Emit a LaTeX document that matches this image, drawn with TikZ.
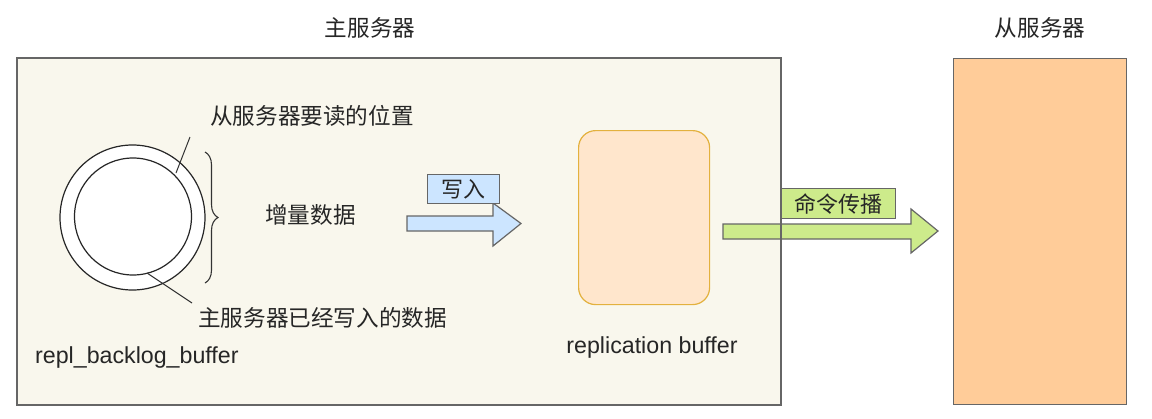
\documentclass[tikz,border=0pt]{standalone}
\usepackage{fontspec}
\setmainfont{Liberation Sans}
\newfontfamily\cjk{Noto Sans CJK SC}
\usetikzlibrary{decorations.pathreplacing}
\definecolor{cream}{HTML}{F9F7ED}
\definecolor{grayline}{HTML}{666666}
\definecolor{slave}{HTML}{FFCC99}
\definecolor{bufffill}{HTML}{FFE6CC}
\definecolor{buffline}{HTML}{E3B13E}
\definecolor{bluefill}{HTML}{CCE5FF}
\definecolor{greenfill}{HTML}{CDEB8B}
\tikzset{
  lbl/.style={font=\cjk\fontsize{22.6}{26}\selectfont, inner sep=0pt, text=black!85},
  latin/.style={font=\fontsize{23.2}{26}\selectfont, inner sep=0pt, text=black!85},
  tagbox/.style={draw=grayline, line width=1.2pt, inner sep=0pt, font=\cjk\fontsize{22}{24}\selectfont, text=black!85},
  bigarrow/.style={draw=grayline, line width=1.2pt, line join=miter},
  leader/.style={draw=black!80, line width=1pt}
}
\begin{document}
\begin{tikzpicture}[x=1pt,y=-1pt]
\useasboundingbox (0,0) rectangle (1152,418);
% main server box
\fill[cream] (17,58) rectangle (781,405);
% slave box
\node[draw=grayline, fill=slave, line width=1.2pt, minimum width=173pt, minimum height=346pt, inner sep=0pt, anchor=north west] (slave) at (953,58) {};
% titles
\node[lbl] (mtitle) at (370,28) {主服务器};
\node[lbl] (stitle) at (1040,28) {从服务器};
% ring buffer
\node[circle, draw=black!85, fill=white, line width=1.2pt, minimum size=145pt, inner sep=0pt] (outer) at (132.5,217.5) {};
\node[circle, draw=black!85, fill=white, line width=1.2pt, minimum size=117pt, inner sep=0pt] (inner) at (133,216.5) {};
% brace
\draw[line width=1.1pt, black!80, decorate, decoration={brace, amplitude=13pt}] (205,152) -- (205,283);
% labels
\node[lbl, anchor=west] (readpos) at (210,116) {从服务器要读的位置};
\node[lbl, anchor=west] (incr) at (265,215) {增量数据};
\node[lbl, anchor=west] (written) at (198,318) {主服务器已经写入的数据};
\node[latin, anchor=west] (backlog) at (35,357) {repl\_backlog\_buffer};
\coordinate (r1) at (190,137);
\coordinate (r2) at (176,173);
\coordinate (w1) at (147,273);
\coordinate (w2) at (192,303);
\draw[leader] (r1) -- (r2);
\draw[leader] (w1) -- (w2);
% replication buffer
\node[draw=buffline, fill=bufffill, line width=1.2pt, rounded corners=17pt, minimum width=131pt, minimum height=174pt, inner sep=0pt, anchor=north west] (rbuf) at (578,130) {};
\node[latin] (rbuflbl) at (652,347) {replication buffer};
% write arrow
\draw[bigarrow, fill=bluefill] (407,216) -- (493,216) -- (493,203) -- (521,223.5) -- (493,246) -- (493,231) -- (407,231) -- cycle;
\node[tagbox, fill=bluefill, minimum width=72pt, minimum height=29pt, anchor=north west] (wtag) at (427,174) {写入};
% propagate arrow
\draw[bigarrow, fill=greenfill] (723,224) -- (911,224) -- (911,209) -- (938,231) -- (911,253) -- (911,239) -- (723,239) -- cycle;
\node[tagbox, fill=greenfill, minimum width=114pt, minimum height=30pt, anchor=north west] (ptag) at (781,188) {命令传播};
% main box border on top
\draw[grayline, line width=1.2pt] (17,58) rectangle (781,405);
\end{tikzpicture}
\end{document}
